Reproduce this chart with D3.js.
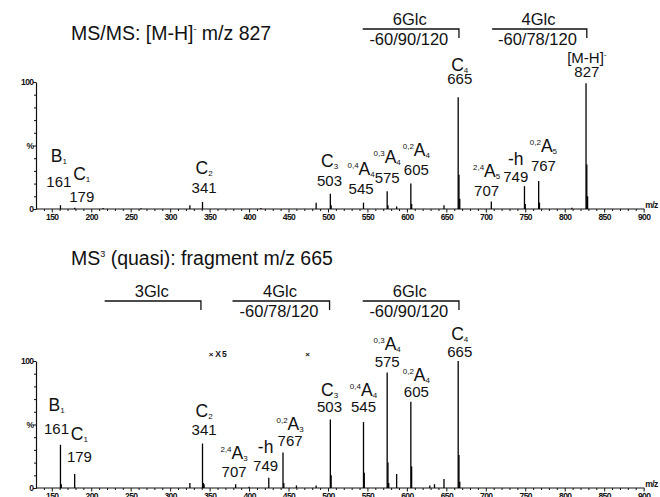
<!DOCTYPE html>
<html>
<head>
<meta charset="utf-8">
<script src="https://cdn.jsdelivr.net/npm/d3@7"></script>
<style>
body { margin: 0; background: #fff; }
text { font-family: "Liberation Sans", Arial, sans-serif; fill: #111; }
</style>
</head>
<body>
<svg width="660" height="497"></svg>
<script>
var width = 660, height = 497;

var xMajorTicks = [150, 200, 250, 300, 350, 400, 450, 500, 550, 600, 650, 700, 750, 800, 850, 900];
var yTickValues = [0, 50, 100];
var yTickLabels = ["0", "%", "100"];

var msmsMz  = [161, 179, 215, 263, 325, 341, 415, 485, 503, 504, 545, 575, 576, 587, 605, 606, 647, 665, 666, 667, 707, 749, 750, 767, 768, 809, 827, 828, 829];
var msmsInt = [3, 1, 0.8, 0.6, 3, 5.5, 0.8, 5, 12, 3, 5, 14, 3, 2, 20, 4, 3, 88, 27, 8, 6, 18, 4, 22, 5, 1, 99, 35, 10];

var ms3Mz  = [161, 162, 179, 325, 341, 342, 343, 383, 400, 425, 443, 444, 460, 485, 503, 504, 545, 546, 575, 576, 577, 587, 605, 606, 629, 635, 647, 665, 666, 667];
var ms3Int = [34, 3, 11, 4, 35, 4, 3, 3, 1, 8, 28, 4, 2, 2, 54, 10, 52, 12, 91, 20, 4, 11, 68, 17, 2, 3, 7, 100, 26, 5];

var msmsLabels = [
    {mz: 159, pre: "", main: "B", sub: "1", num: "161", top: 37, at: 17.3},
    {mz: 188, pre: "", main: "C", sub: "1", num: "179", top: 22.8, at: 5.5},
    {mz: 343, pre: "", main: "C", sub: "2", num: "341", top: 27.6, at: 12.6},
    {mz: 502, pre: "", main: "C", sub: "3", num: "503", top: 33, at: 18.1},
    {mz: 542, pre: "0,4", main: "A", sub: "4", num: "545", top: 26.8, at: 11.8},
    {mz: 575, pre: "0,3", main: "A", sub: "4", num: "575", top: 36.2, at: 20.5},
    {mz: 612, pre: "0,2", main: "A", sub: "4", num: "605", top: 41.7, at: 26.8},
    {mz: 667, pre: "", main: "C", sub: "4", num: "665", top: 109, at: 98.4},
    {mz: 701, pre: "2,4", main: "A", sub: "5", num: "707", top: 25.2, at: 10.2},
    {mz: 738, pre: "", main: "-h", sub: "", num: "749", top: 34.6, at: 21.3},
    {mz: 773, pre: "0,2", main: "A", sub: "5", num: "767", top: 44.9, at: 29.9},
    {mz: 828, pre: "", main: "[M-H]", sub: "", sup: "-", num: "827", top: 115, at: 104}
];

var ms3Labels = [
    {mz: 156, pre: "", main: "B", sub: "1", num: "161", top: 60.6, at: 42.5},
    {mz: 185, pre: "", main: "C", sub: "1", num: "179", top: 37.8, at: 20.5},
    {mz: 343, pre: "", main: "C", sub: "2", num: "341", top: 55.9, at: 41.7},
    {mz: 381, pre: "2,4", main: "A", sub: "3", num: "707", top: 22.8, at: 8.7},
    {mz: 421, pre: "", main: "-h", sub: "", num: "749", top: 27.6, at: 13.4},
    {mz: 452, pre: "0,2", main: "A", sub: "3", num: "767", top: 45.7, at: 33},
    {mz: 502, pre: "", main: "C", sub: "3", num: "503", top: 72.5, at: 59.8},
    {mz: 545, pre: "0,4", main: "A", sub: "4", num: "545", top: 72.5, at: 59.8},
    {mz: 575, pre: "0,3", main: "A", sub: "4", num: "575", top: 108.5, at: 95.3},
    {mz: 612, pre: "0,2", main: "A", sub: "4", num: "605", top: 84, at: 71.7},
    {mz: 667, pre: "", main: "C", sub: "4", num: "665", top: 116.5, at: 103.1}
];

var msmsBrackets = [
    {from: 544, to: 666, name: "6Glc", loss: "-60/90/120"},
    {from: 708, to: 828, name: "4Glc", loss: "-60/78/120"}
];
var ms3Brackets = [
    {from: 217, to: 339, name: "3Glc", loss: ""},
    {from: 379, to: 502, name: "4Glc", loss: "-60/78/120"},
    {from: 544, to: 666, name: "6Glc", loss: "-60/90/120"}
];

var zoomMarks = [352, 474];

var svg = d3.select('svg');

var x = d3.scaleLinear().domain([130, 903]).range([36, 646]);
var y = d3.scaleLinear().domain([0, 100]).range([209, 82]);

function styleTickText(sel){
    sel.style('font-size', '8.5px')
        .style('font-weight', 'bold')
        .style('letter-spacing', '-0.6px')
        .attr('fill', '#111');
}

function drawPanel(offset, mzs, ints, labels){
    var g = svg.append('g')
        .attr('transform', 'translate(0,' + offset + ')');

    var minor = d3.range(140, 901, 10).filter(function(v){ return v % 50 != 0 });

    g.append('g')
        .attr('transform', 'translate(0,' + y(0) + ')')
        .call(d3.axisBottom(x).tickValues(minor).tickSize(2).tickSizeOuter(0).tickFormat(''))
        .call(function(a){ a.select('.domain').remove() });

    var xa = g.append('g')
        .attr('transform', 'translate(0,' + y(0) + ')')
        .call(d3.axisBottom(x).tickValues(xMajorTicks).tickSize(3.5).tickSizeOuter(0).tickFormat(d3.format('d')));
    xa.select('.domain').attr('d', 'M' + x(130) + ',0H' + x(901));
    xa.selectAll('text')
        .attr('y', 5)
        .call(styleTickText);

    g.append('text')
        .attr('x', x(902))
        .attr('y', y(0) - 1)
        .call(styleTickText)
        .text('m/z');

    g.append('g')
        .attr('transform', 'translate(' + x(130) + ',0)')
        .call(d3.axisLeft(y).tickValues(d3.range(10, 100, 10).filter(function(v){ return v != 50 })).tickSize(2).tickSizeOuter(0).tickFormat(''))
        .call(function(a){ a.select('.domain').remove() });

    var ya = g.append('g')
        .attr('transform', 'translate(' + x(130) + ',0)')
        .call(d3.axisLeft(y).tickValues(yTickValues).tickSize(3).tickSizeOuter(0)
            .tickFormat(function(d, i){ return yTickLabels[i] }));
    ya.selectAll('text')
        .attr('x', -2.5)
        .call(styleTickText);

    g.selectAll('.tick line').attr('stroke', '#111');
    g.selectAll('.domain').attr('stroke', '#111').attr('stroke-width', 1.2);

    g.append('g').attr('class', 'peaks')
        .selectAll('line')
        .data(mzs)
        .enter()
        .append('line')
            .attr('x1', function(d){ return x(d) })
            .attr('x2', function(d){ return x(d) })
            .attr('y1', y(0))
            .attr('y2', function(d, i){ return y(ints[i]) })
            .attr('stroke', '#000')
            .attr('stroke-width', 1.3);

    var lab = g.append('g').attr('class', 'labels')
        .selectAll('g')
        .data(labels)
        .enter()
        .append('g');

    var t = lab.append('text')
        .attr('x', function(d){ return x(d.mz) })
        .attr('y', function(d){ return y(d.top) })
        .attr('text-anchor', 'middle');
    t.append('tspan')
        .style('font-size', '8px')
        .attr('dy', function(d){ return d.pre ? -7 : 0 })
        .text(function(d){ return d.pre });
    t.append('tspan')
        .style('font-size', function(d){ return d.sup ? '15px' : '17.5px' })
        .attr('dy', function(d){ return d.pre ? 7 : 0 })
        .text(function(d){ return d.main });
    t.append('tspan')
        .style('font-size', '8px')
        .attr('dy', function(d){ return d.sub ? 2 : (d.sup ? -6 : 0) })
        .text(function(d){ return d.sub || d.sup || '' });

    lab.append('text')
        .attr('x', function(d){ return x(d.mz) })
        .attr('y', function(d){ return y(d.at) })
        .attr('text-anchor', 'middle')
        .style('font-size', '15px')
        .text(function(d){ return d.num });

    return g;
}

function drawBrackets(lineY, brackets){
    var b = svg.append('g').attr('class', 'brackets')
        .selectAll('g')
        .data(brackets)
        .enter()
        .append('g');
    b.append('path')
        .attr('d', function(d){
            return 'M' + x(d.from) + ',' + lineY + 'H' + x(d.to) + 'V' + (lineY + 9)
        })
        .attr('fill', 'none')
        .attr('stroke', '#111')
        .attr('stroke-width', 1.3);
    b.append('text')
        .attr('x', function(d){ return (x(d.from) + x(d.to)) / 2 - 1 })
        .attr('y', lineY - 4)
        .attr('text-anchor', 'middle')
        .style('font-size', '16.5px')
        .text(function(d){ return d.name });
    b.append('text')
        .attr('x', function(d){ return (x(d.from) + x(d.to)) / 2 - 2 })
        .attr('y', lineY + 16)
        .attr('text-anchor', 'middle')
        .style('font-size', '16.5px')
        .text(function(d){ return d.loss });
}

drawPanel(0, msmsMz, msmsInt, msmsLabels);
var bottom = drawPanel(279, ms3Mz, ms3Int, ms3Labels);

bottom.selectAll('.zoommark')
    .data(zoomMarks)
    .enter()
    .append('text')
        .attr('class', 'zoommark')
        .attr('x', function(d){ return x(d) })
        .attr('y', y(103))
        .attr('text-anchor', 'middle')
        .style('font-size', '8px')
        .style('font-weight', 'bold')
        .text('\u00d7');
bottom.append('text')
    .attr('x', x(352) + 4)
    .attr('y', y(103))
    .call(styleTickText)
    .text('X 5');

drawBrackets(29, msmsBrackets);
drawBrackets(301, ms3Brackets);

var t1 = svg.append('text')
    .attr('x', 71)
    .attr('y', 40)
    .style('font-size', '19.5px');
t1.append('tspan').text('MS/MS: [M-H]');
t1.append('tspan').attr('dy', -8).style('font-size', '9px').text('-');
t1.append('tspan').attr('dy', 8).text(' m/z 827');

var t2 = svg.append('text')
    .attr('x', 71)
    .attr('y', 265)
    .style('font-size', '19.5px');
t2.append('tspan').text('MS');
t2.append('tspan').attr('dy', -8).style('font-size', '9px').text('3');
t2.append('tspan').attr('dy', 8).text(' (quasi): fragment m/z 665');
</script>
</body>
</html>
